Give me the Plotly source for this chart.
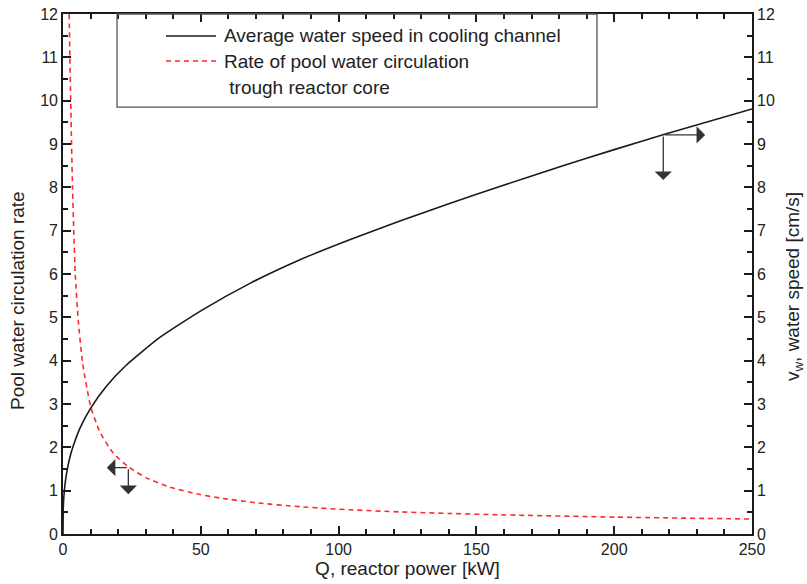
import plotly.graph_objects as go

# Average water speed in cooling channel (right axis, cm/s)
q_speed = [0, 0.1, 0.3, 0.7, 1.3, 2.5, 3.7, 6.2, 10, 15.9, 23, 35, 50, 68, 86, 104, 122, 140, 159, 180, 200, 218, 250]
v_speed = [0, 0.6, 0.85, 1.13, 1.4, 1.77, 2.03, 2.45, 2.9, 3.42, 3.9, 4.53, 5.15, 5.79, 6.33, 6.79, 7.22, 7.62,
           8.03, 8.47, 8.87, 9.22, 9.81]

# Rate of pool water circulation through reactor core (left axis)
q_rate = [2.25, 2.5, 2.8, 3.1, 3.45, 3.9, 4.45, 5.5, 7.1, 10, 13.4, 18.3, 23.7, 30.4, 38.8, 49.7, 57, 70, 86,
          104, 122, 140, 159, 200, 250]
v_rate = [12, 11, 10, 9, 8, 7, 6, 4.95, 3.95, 2.95, 2.35, 1.86, 1.55, 1.29, 1.08, 0.91, 0.83, 0.72, 0.63,
          0.558, 0.511, 0.474, 0.442, 0.39, 0.345]

x_ticks = [0, 50, 100, 150, 200, 250]
y_ticks = list(range(0, 13))

name_speed = "Average water speed in cooling channel"
name_rate = ["Rate of pool water circulation", " trough reactor core"]
x_title = "Q, reactor power [kW]"
y_title_left = "Pool water circulation rate"
y_title_right = "v<sub>w</sub>, water speed [cm/s]"

FONT = "Liberation Sans, Arial, sans-serif"
TXT = "#222"

fig = go.Figure()
fig.add_trace(go.Scatter(
    x=q_speed, y=v_speed, mode="lines", yaxis="y2", name=name_speed, showlegend=False,
    line=dict(color="#1a1a1a", width=1.6, shape="spline", smoothing=0.5),
))
fig.add_trace(go.Scatter(
    x=q_rate, y=v_rate, mode="lines", yaxis="y", name=" ".join(name_rate), showlegend=False,
    line=dict(color="#ff2a2a", width=1.6, dash="5px,4px", shape="spline", smoothing=0.5),
))

axis_common = dict(
    showline=True, linecolor="#1a1a1a", linewidth=1.6, automargin=False,
    ticks="inside", ticklen=8, tickwidth=1.5, tickcolor="#1a1a1a",
    showgrid=False, zeroline=False,
    tickfont=dict(family=FONT, size=16, color=TXT),
)
minor_y = dict(dtick=0.5, ticks="inside", ticklen=5, tickwidth=1.5, tickcolor="#1a1a1a")
title_font = dict(family=FONT, size=19, color=TXT)

fig.update_layout(
    width=807, height=584,
    margin=dict(l=63, r=55, t=14, b=50),
    paper_bgcolor="white", plot_bgcolor="white",
    font=dict(family=FONT, size=16, color=TXT),
    showlegend=False,
    xaxis=dict(
        range=[0, 250], tickvals=x_ticks, mirror="ticks",
        minor=dict(dtick=10, ticks="inside", ticklen=5, tickwidth=1.5, tickcolor="#1a1a1a"),
        title=dict(text=x_title, font=title_font, standoff=5),
        **axis_common,
    ),
    yaxis=dict(range=[0, 12], tickvals=y_ticks, minor=minor_y, **axis_common),
    yaxis2=dict(range=[0, 12], tickvals=y_ticks, overlaying="y", side="right", minor=minor_y, **axis_common),
)

# y axis titles (placed slightly below the axis centre, as in the original)
fig.add_annotation(xref="paper", yref="paper", x=-0.0668, y=0.45, text=y_title_left, textangle=-90,
                   showarrow=False, xanchor="center", yanchor="middle", font=title_font)
fig.add_annotation(xref="paper", yref="paper", x=1.061, y=0.475, text=y_title_right, textangle=-90,
                   showarrow=False, xanchor="center", yanchor="middle", font=title_font)

# legend frame and entries
fig.add_shape(type="rect", xref="paper", yref="paper",
              x0=0.0784, x1=0.775, y0=0.821, y1=1.0,
              line=dict(color="#555", width=1.3), fillcolor="rgba(0,0,0,0)", layer="above")
fig.add_shape(type="line", xref="paper", yref="paper", x0=0.1495, x1=0.222, y0=0.9577, y1=0.9577,
              line=dict(color="#1a1a1a", width=1.6))
fig.add_shape(type="line", xref="paper", yref="paper", x0=0.1495, x1=0.222, y0=0.9096, y1=0.9096,
              line=dict(color="#ff2a2a", width=1.6, dash="5px,4px"))
leg_font = dict(family=FONT, size=19, color=TXT)
fig.add_annotation(xref="paper", yref="paper", x=0.2308, y=0.9577, text=name_speed,
                   showarrow=False, xanchor="left", yanchor="middle", font=leg_font)
fig.add_annotation(xref="paper", yref="paper", x=0.2308, y=0.9096, text=name_rate[0],
                   showarrow=False, xanchor="left", yanchor="middle", font=leg_font)
fig.add_annotation(xref="paper", yref="paper", x=0.2308, y=0.8596, text=name_rate[1],
                   showarrow=False, xanchor="left", yanchor="middle", font=leg_font)

# direction arrows
arrow = dict(showarrow=True, arrowhead=1, arrowsize=2.2, arrowwidth=1.3, arrowcolor="#333",
             text="", axref="x", ayref="y", xref="x", yref="y")
fig.add_annotation(x=15.9, y=1.53, ax=23.7, ay=1.53, **arrow)
fig.add_annotation(x=23.7, y=0.92, ax=23.7, ay=1.53, **arrow)
fig.add_annotation(x=233, y=9.21, ax=217.8, ay=9.21, **arrow)
fig.add_annotation(x=217.8, y=8.17, ax=217.8, ay=9.21, **arrow)

fig.write_html("out.html", config={"displayModeBar": False},
               post_script="document.body.style.margin='0';")
